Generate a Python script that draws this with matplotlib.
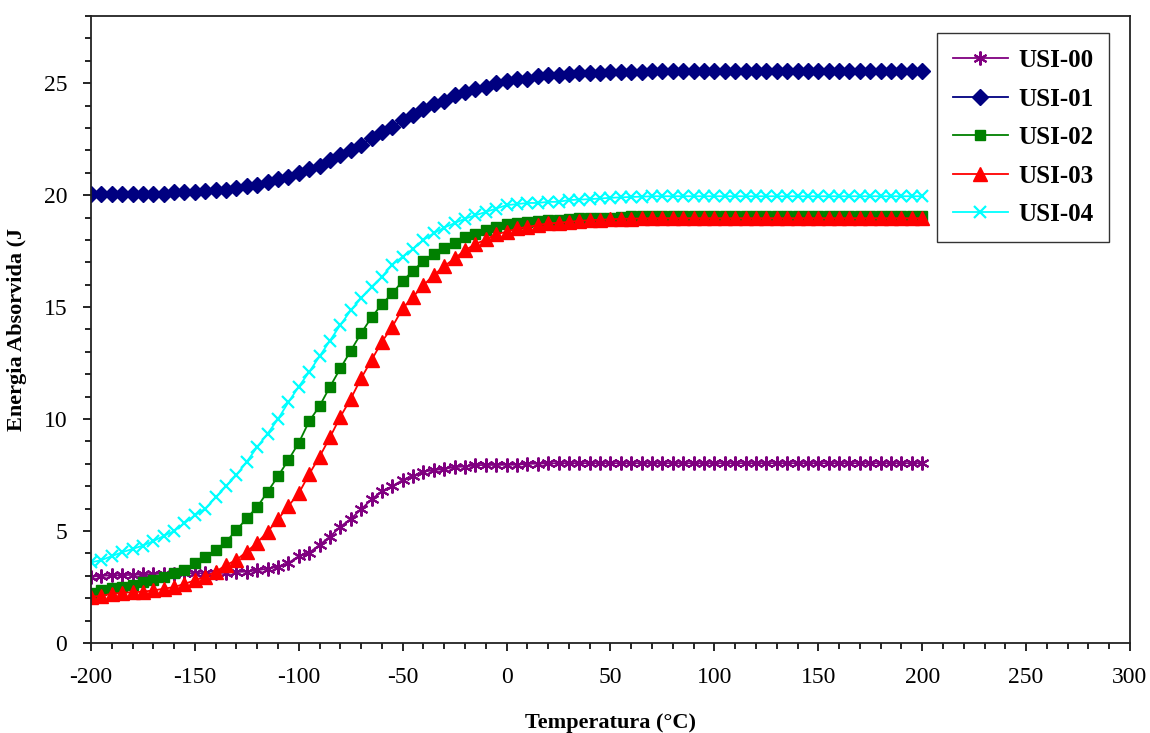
import matplotlib
matplotlib.use("Agg")
import matplotlib.pyplot as plt
from matplotlib.ticker import MultipleLocator

plt.rcParams['font.family'] = ['Liberation Serif', 'DejaVu Serif']
plt.rcParams['axes.unicode_minus'] = False

# temperatura (°C), um ponto a cada 5 graus
temp = list(range(-200, 205, 5))

usi00 = [2.96, 3.0, 3.02, 3.03, 3.04, 3.06, 3.08, 3.1, 3.1, 3.11,
         3.12, 3.11, 3.12, 3.14, 3.17, 3.19, 3.25, 3.32, 3.41, 3.57,
         3.88, 4.03, 4.38, 4.75, 5.19, 5.54, 5.97, 6.41, 6.78, 7.0,
         7.28, 7.46, 7.65, 7.72, 7.77, 7.86, 7.88, 7.94, 7.95, 7.95,
         7.96, 7.96, 8.0, 8.01, 8.02] + [8.03] * 36

usi01 = [20.03, 20.03, 20.03, 20.03, 20.03, 20.05, 20.05, 20.05, 20.12, 20.12,
         20.15, 20.2, 20.22, 20.25, 20.3, 20.4, 20.45, 20.6, 20.72, 20.82,
         21.0, 21.15, 21.3, 21.55, 21.78, 22.0, 22.25, 22.55, 22.8, 23.05,
         23.35, 23.6, 23.85, 24.05, 24.2, 24.45, 24.6, 24.75, 24.85, 25.0,
         25.1, 25.2, 25.18, 25.3, 25.35, 25.35, 25.4, 25.45, 25.45, 25.45,
         25.48, 25.5, 25.5, 25.52] + [25.55] * 27

usi02 = [2.25, 2.37, 2.44, 2.51, 2.59, 2.74, 2.81, 2.96, 3.11, 3.26,
         3.56, 3.85, 4.15, 4.52, 5.04, 5.57, 6.08, 6.75, 7.45, 8.17,
         8.94, 9.9, 10.58, 11.44, 12.26, 13.05, 13.83, 14.54, 15.13, 15.61,
         16.17, 16.62, 17.07, 17.37, 17.62, 17.84, 18.11, 18.26, 18.44, 18.58,
         18.7, 18.76, 18.81, 18.85, 18.88, 18.91, 18.93, 18.96, 18.98, 19.0,
         19.0, 19.02] + [19.05] * 29

usi03 = [2.07, 2.1, 2.2, 2.24, 2.27, 2.29, 2.35, 2.42, 2.5, 2.64,
         2.8, 2.96, 3.18, 3.48, 3.71, 4.08, 4.48, 4.97, 5.52, 6.12,
         6.68, 7.54, 8.32, 9.18, 10.1, 10.9, 11.82, 12.63, 13.45, 14.12,
         14.94, 15.46, 15.98, 16.43, 16.83, 17.17, 17.54, 17.81, 18.02, 18.26,
         18.36, 18.51, 18.58, 18.66, 18.74, 18.76, 18.81, 18.85, 18.88, 18.9,
         18.92, 18.94, 18.95, 18.96] + [18.97] * 27

usi04 = [3.6, 3.7, 3.88, 4.05, 4.2, 4.35, 4.55, 4.78, 5.0, 5.35,
         5.7, 6.0, 6.5, 7.0, 7.5, 8.1, 8.75, 9.35, 10.0, 10.75,
         11.45, 12.1, 12.8, 13.5, 14.2, 14.85, 15.4, 15.9, 16.35, 16.9,
         17.25, 17.6, 18.0, 18.3, 18.55, 18.75, 18.95, 19.1, 19.25, 19.4,
         19.55, 19.6, 19.65, 19.65, 19.7, 19.7, 19.78, 19.8, 19.82, 19.85,
         19.88, 19.9, 19.92, 19.93] + [19.95] * 27

fig = plt.figure(figsize=(11.5, 7.33), dpi=100)
ax = fig.add_axes([0.0791, 0.1228, 0.9035, 0.8554])

ax.plot(temp, usi00, '-', color='#800080', lw=1.3, marker=(6, 2, 0), ms=10, mew=1.5, label='USI-00')
ax.plot(temp, usi01, '-', color='#000080', lw=1.3, marker='D', ms=8, label='USI-01')
ax.plot(temp, usi02, '-', color='#008000', lw=1.3, marker='s', ms=7.5, label='USI-02')
ax.plot(temp, usi03, '-', color='#FF0000', lw=1.3, marker='^', ms=9.5, label='USI-03')
ax.plot(temp, usi04, '-', color='#00FFFF', lw=1.3, marker='x', ms=9, mew=1.6, label='USI-04')

ax.set_xlim(-200, 300)
ax.set_ylim(0, 28)
ax.xaxis.set_major_locator(MultipleLocator(50))
ax.xaxis.set_minor_locator(MultipleLocator(10))
ax.yaxis.set_major_locator(MultipleLocator(5))
ax.yaxis.set_minor_locator(MultipleLocator(1))
ax.tick_params(which='both', direction='out', top=False, right=False, width=1.2, labelsize=17)
ax.tick_params(which='major', length=6, pad=11)
ax.tick_params(which='minor', length=4)
for s in ax.spines.values():
    s.set_linewidth(1.3)
    s.set_color('#222222')

ax.set_xlabel('Temperatura (°C)', fontsize=16, fontweight='bold', labelpad=18)
ax.set_ylabel('Energia Absorvida (J', fontsize=16, fontweight='bold', labelpad=12)

leg = ax.legend(loc='upper left', bbox_to_anchor=(0.814, 0.973), frameon=True, fancybox=False,
                edgecolor='black', prop={'family': 'Liberation Serif', 'weight': 'bold', 'size': 18},
                handlelength=2.2, labelspacing=0.62, borderpad=0.65, handletextpad=0.4,
                borderaxespad=0)
leg.get_frame().set_linewidth(1.0)

fig.savefig('out.png', dpi=100)
